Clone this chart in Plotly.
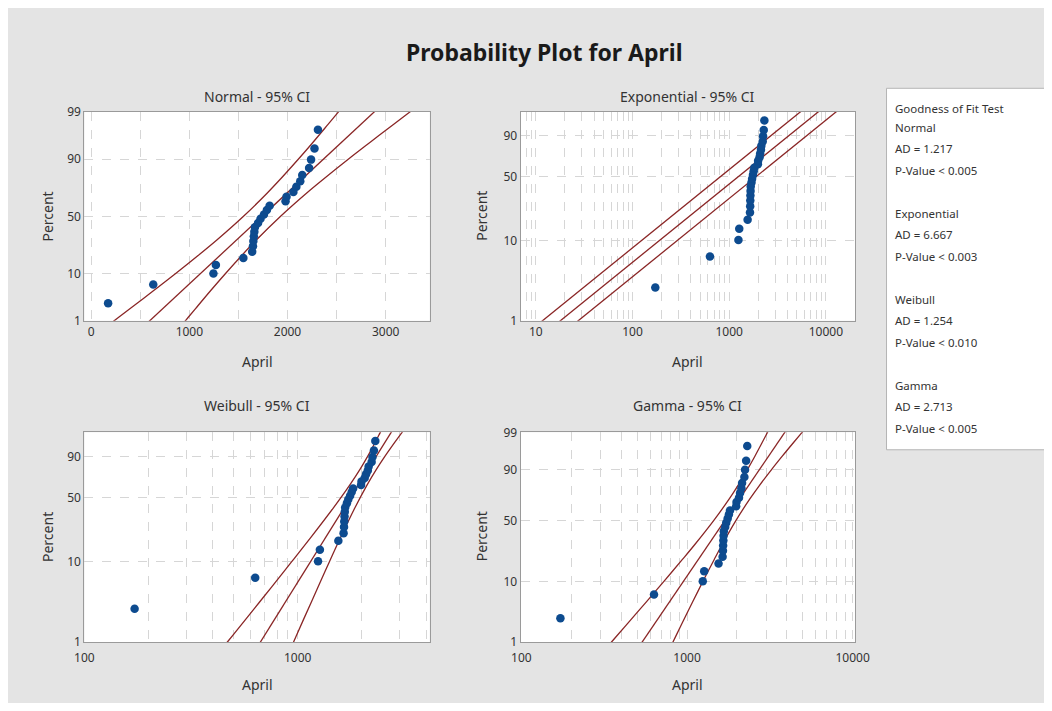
import math
import plotly.graph_objects as go

# ---------------- data ----------------
april = [172, 632, 1245, 1270, 1550, 1640, 1648, 1652, 1657, 1662, 1668, 1700, 1725,
         1760, 1790, 1818, 1980, 1990, 2060, 2090, 2130, 2150, 2220, 2240, 2275, 2310]
percent = [2.65, 6.44, 10.23, 14.02, 17.80, 21.59, 25.38, 29.17, 32.95, 36.74, 40.53,
           44.32, 48.11, 51.89, 55.68, 59.47, 63.26, 67.05, 70.83, 74.62, 78.41, 82.20,
           85.98, 89.77, 93.56, 97.35]

# Normal fit + 95% CI (x values at given percents)
norm_pct = [0.5, 1, 2, 5, 10, 20, 30, 50, 70, 80, 90, 95, 98, 99, 99.5]
norm_fit = [473, 596, 730, 930, 1109, 1325, 1481, 1738, 1995, 2151, 2367, 2546, 2746, 2880, 3003]
norm_lo = [81, 233, 397, 640, 854, 1105, 1280, 1549, 1794, 1931, 2112, 2256, 2413, 2517, 2611]
norm_hi = [865, 959, 1063, 1220, 1364, 1545, 1682, 1927, 2196, 2371, 2622, 2836, 3079, 3243, 3395]

# Exponential fit + 95% CI
exp_pct = [0.5, 99.9]
exp_fit = [8.92, 12296]
exp_lo = [5.83, 8037]
exp_hi = [13.65, 18813]

# Weibull fit + 95% CI
weib_pct = [0.5, 1, 2, 5, 10, 20, 40, 63.2, 80, 90, 95, 99, 99.5]
weib_fit = [569, 668, 784, 972, 1146, 1362, 1648, 1923, 2145, 2329, 2475, 2732, 2821]
weib_lo = [380, 467, 575, 757, 935, 1162, 1467, 1752, 1964, 2123, 2240, 2431, 2495]
weib_hi = [852, 955, 1070, 1248, 1406, 1597, 1851, 2111, 2344, 2556, 2735, 3070, 3191]

# Gamma fit + 95% CI
gamma_shape = 6.15
gam_pct = [0.5, 1, 2, 5, 10, 20, 30, 50, 70, 80, 90, 95, 98, 99, 99.5]
gam_fit = [458.5, 534.9, 627.7, 786.0, 947.3, 1170.4, 1351.3, 1689.7, 2080.3, 2343.5,
           2744.1, 3107.4, 3552.8, 3872.5, 4181.2]
gam_lo = [286, 349, 428, 570, 721, 938, 1118, 1448, 1803, 2019, 2319, 2569, 2853, 3048, 3229]
gam_hi = [735, 821, 921, 1084, 1244, 1460, 1634, 1972, 2401, 2720, 3247, 3759, 4424, 4920, 5414]

gof_lines = [
    ("Normal", "AD = 1.217", "P-Value < 0.005"),
    ("Exponential", "AD = 6.667", "P-Value < 0.003"),
    ("Weibull", "AD = 1.254", "P-Value < 0.010"),
    ("Gamma", "AD = 2.713", "P-Value < 0.005"),
]

# ---------------- probability scales ----------------
def norm_ppf(p):
    lo, hi = -12.0, 12.0
    for _ in range(100):
        mid = 0.5 * (lo + hi)
        if 0.5 * (1 + math.erf(mid / math.sqrt(2))) < p:
            lo = mid
        else:
            hi = mid
    return 0.5 * (lo + hi)


def t_normal(pc):
    return norm_ppf(pc / 100.0)


def t_weibull(pc):
    return math.log(-math.log(1 - pc / 100.0))


def t_gamma(pc):
    k = gamma_shape
    s = math.sqrt(1.0 / (9 * k))
    return math.log10((1 - 1.0 / (9 * k) + norm_ppf(pc / 100.0) * s) ** 3)


# ---------------- layout helpers ----------------
W, H = 1036, 695
OX, OY = 8, 8


def px(X):
    return (X - OX) / W


def py(Y):
    return 1 - (Y - OY) / H


FONT = "Noto Sans"
TXT = "#333333"
GRID = "#d6d6d6"
FRAME = "#9a9a9a"
LINEC = "#8a2626"
MARK = "#0d4b8f"

fig = go.Figure()

panels = [
    dict(name="Normal", xa="x", ya="y", tf=t_normal,
         pct=norm_pct, fit=norm_fit, lo=norm_lo, hi=norm_hi, shape="spline"),
    dict(name="Exponential", xa="x2", ya="y2", tf=t_weibull,
         pct=exp_pct, fit=exp_fit, lo=exp_lo, hi=exp_hi, shape="linear"),
    dict(name="Weibull", xa="x3", ya="y3", tf=t_weibull,
         pct=weib_pct, fit=weib_fit, lo=weib_lo, hi=weib_hi, shape="spline"),
    dict(name="Gamma", xa="x4", ya="y4", tf=t_gamma,
         pct=gam_pct, fit=gam_fit, lo=gam_lo, hi=gam_hi, shape="spline"),
]

for p in panels:
    ty = [p["tf"](v) for v in p["pct"]]
    for xs, shp in ((p["lo"], p["shape"]), (p["fit"], "linear"), (p["hi"], p["shape"])):
        fig.add_trace(go.Scatter(x=xs, y=ty, mode="lines", xaxis=p["xa"], yaxis=p["ya"],
                                 line=dict(color=LINEC, width=1.3, shape=shp),
                                 hoverinfo="skip", showlegend=False))
    fig.add_trace(go.Scatter(x=april, y=[p["tf"](v) for v in percent], mode="markers",
                             xaxis=p["xa"], yaxis=p["ya"],
                             marker=dict(color=MARK, size=8.5, line=dict(width=0)),
                             showlegend=False, name=p["name"]))


def log_ticks(lo_dec, hi_dec, labels):
    vals, text = [], []
    for d in range(lo_dec, hi_dec + 1):
        for m in range(1, 10):
            v = m * 10 ** d
            vals.append(v)
            text.append(str(v) if (m == 1 and v in labels) else "")
    return vals, text


axis_common = dict(showgrid=True, gridcolor=GRID, griddash="dash", gridwidth=1,
                   showline=True, linecolor=FRAME, linewidth=1, mirror=True,
                   zeroline=False, ticks="", tickfont=dict(family=FONT, size=12, color=TXT))

colx = [(px(76), px(430)), (px(523), px(866))]
rowy = [(py(320), py(106)), (py(649), py(434))]

# Normal
fig.update_layout(
    xaxis=dict(axis_common, domain=colx[0], anchor="y", range=[-70, 3450],
               tickvals=[0, 500, 1000, 1500, 2000, 2500, 3000],
               ticktext=["0", "", "1000", "", "2000", "", "3000"]),
    yaxis=dict(axis_common, domain=rowy[0], anchor="x",
               range=[t_normal(1), t_normal(99) + 0.01],
               tickvals=[t_normal(v) for v in [1, 10, 50, 90, 99]],
               ticktext=["1", "10", "50", "90", "99"]),
)
ev, et = log_ticks(0, 4, [10, 100, 1000, 10000])
fig.update_layout(
    xaxis2=dict(axis_common, domain=colx[1], anchor="y2", type="log",
                range=[0.842, 4.304], tickvals=ev, ticktext=et),
    yaxis2=dict(axis_common, domain=rowy[0], anchor="x2",
                range=[t_weibull(1), t_weibull(99) + 0.02],
                tickvals=[t_weibull(v) for v in [1, 10, 50, 90]],
                ticktext=["1", "10", "50", "90"]),
)
wv, wt = log_ticks(2, 3, [100, 1000])
fig.update_layout(
    xaxis3=dict(axis_common, domain=colx[0], anchor="y3", type="log",
                range=[2, 3.619], tickvals=wv, ticktext=wt, ticklabelstandoff=4),
    yaxis3=dict(axis_common, domain=rowy[1], anchor="x3",
                range=[t_weibull(1), t_weibull(99) + 0.02],
                tickvals=[t_weibull(v) for v in [1, 10, 50, 90]],
                ticktext=["1", "10", "50", "90"]),
)
gv, gt = log_ticks(2, 4, [100, 1000, 10000])
fig.update_layout(
    xaxis4=dict(axis_common, domain=colx[1], anchor="y4", type="log",
                range=[1.995, 4.016], tickvals=gv, ticktext=gt, ticklabelstandoff=4),
    yaxis4=dict(axis_common, domain=rowy[1], anchor="x4",
                range=[t_gamma(1), t_gamma(99) + 0.003],
                tickvals=[t_gamma(v) for v in [1, 10, 50, 90, 99]],
                ticktext=["1", "10", "50", "90", "99"]),
)

ann = []
ann.append(dict(text="<b>Probability Plot for April</b>", x=px(548), y=py(45),
                font=dict(family=FONT, size=23, color="#1a1a1a")))
for t, X, Y in [("Normal - 95% CI", 253, 90), ("Exponential - 95% CI", 694, 90),
                ("Weibull - 95% CI", 253, 407), ("Gamma - 95% CI", 694, 407)]:
    ann.append(dict(text=t, x=px(X), y=py(Y), font=dict(family=FONT, size=14, color=TXT)))
for X, Y in [(253, 362), (694, 362), (253, 692), (694, 692)]:
    ann.append(dict(text="April", x=px(X), y=py(Y), font=dict(family=FONT, size=14, color=TXT)))
for X, Y in [(38, 213), (483, 213), (38, 541), (483, 541)]:
    ann.append(dict(text="Percent", x=px(X), y=py(Y), textangle=-90,
                    font=dict(family=FONT, size=14, color=TXT)))
ann.append(dict(text="Goodness of Fit Test", x=px(905), y=py(103), xanchor="left",
                font=dict(family=FONT, size=11.5, color=TXT)))
for gi, lines in enumerate(gof_lines):
    for li, t in enumerate(lines):
        ann.append(dict(text=t, x=px(905), y=py(122 + 88 * gi + 22 * li), xanchor="left",
                        font=dict(family=FONT, size=11.5, color=TXT)))
for a in ann:
    a.update(xref="paper", yref="paper", showarrow=False)
    a.setdefault("xanchor", "center")
    a.setdefault("yanchor", "middle")

fig.update_layout(
    width=W, height=H,
    margin=dict(l=0, r=0, t=0, b=0),
    paper_bgcolor="#e4e4e4",
    plot_bgcolor="white",
    annotations=ann,
    showlegend=False,
    shapes=[dict(type="rect", xref="paper", yref="paper", x0=px(898), x1=1.02,
                 y0=py(452), y1=py(82), fillcolor="white",
                 line=dict(color="#b4b4b4", width=1), layer="below")],
)

fig.write_html("out.html")
